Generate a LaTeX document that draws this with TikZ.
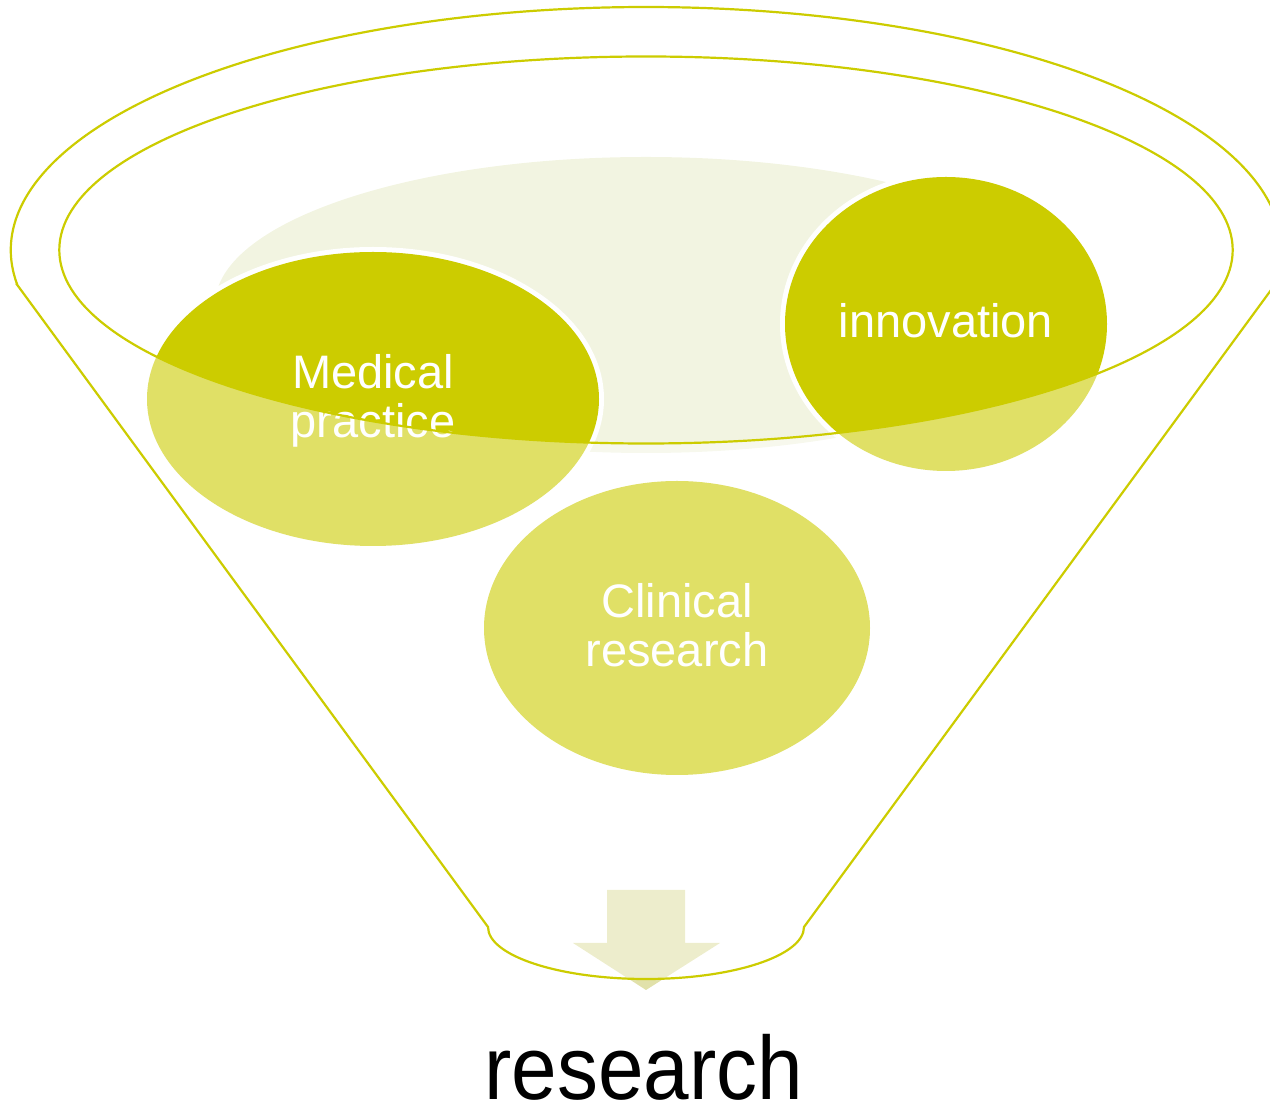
\documentclass[tikz,border=0pt]{standalone}
\usepackage{fontspec}
\setmainfont{Liberation Sans}
\definecolor{funnelgreen}{HTML}{CCCC00}
\definecolor{bgpale}{HTML}{F2F4E1}
\definecolor{arrowbase}{HTML}{E1E1AA}
\tikzset{
  rim/.style={draw=funnelgreen, line width=2.2pt},
  bubble/.style={fill=funnelgreen},
  halo/.style={fill=white},
  lbl/.style={text=white, inner sep=0pt, anchor=base, font=\fontsize{47}{49}\selectfont},
}
\begin{document}
\begin{tikzpicture}[x=1pt, y=1pt]
  \useasboundingbox (0,0) rectangle (1270,1106);
  \clip (0,0) rectangle (1270,1106);

  % pale backdrop inside the mouth of the funnel
  \fill[bgpale] (646,801) ellipse [x radius=431pt, y radius=148pt];

  % outlet arrow
  \fill[arrowbase] (607,216) -- (685,216) -- (685,163) -- (720,163)
        -- (646,116) -- (573,163) -- (607,163) -- cycle;

  % the three bubbles
  \fill[bubble] (677,478) ellipse [x radius=193pt, y radius=147pt];
  \fill[halo]   (373,707) ellipse [x radius=231pt, y radius=152pt];
  \fill[bubble] (373,707) ellipse [x radius=226pt, y radius=147pt];
  \fill[halo]   (946,782) ellipse [x radius=166pt, y radius=152pt];
  \fill[bubble] (946,782) ellipse [x radius=161pt, y radius=147pt];

  % translucent front face of the funnel
  \fill[white, fill opacity=0.4, even odd rule]
    (17.3,821) -- (488,179)
    arc [start angle=180, end angle=360, x radius=158pt, y radius=52pt]
    -- (1274.7,821)
    arc [start angle=-8.28, end angle=188.28, x radius=635.3pt, y radius=243pt]
    -- cycle
    (646,856) ellipse [x radius=586.7pt, y radius=193.5pt];

  % labels
  \node[lbl] (medA)  at (373,717) {Medical};
  \node[lbl] (medB)  at (373,668) {practice};
  \node[lbl] (innov) at (946,768) {innovation};
  \node[lbl] (clinA) at (677,488) {Clinical};
  \node[lbl] (clinB) at (677,439) {research};
  \node[inner sep=0pt, anchor=base] (result) at (644,6.5)
    {\fontsize{90}{90}\selectfont\scalebox{0.91}[1]{research}};

  % funnel outline and inner rim
  \draw[rim]
    (17.3,821) -- (488,179)
    arc [start angle=180, end angle=360, x radius=158pt, y radius=52pt]
    -- (1274.7,821)
    arc [start angle=-8.28, end angle=188.28, x radius=635.3pt, y radius=243pt]
    -- cycle;
  \draw[rim] (646,856) ellipse [x radius=586.7pt, y radius=193.5pt];
\end{tikzpicture}
\end{document}
